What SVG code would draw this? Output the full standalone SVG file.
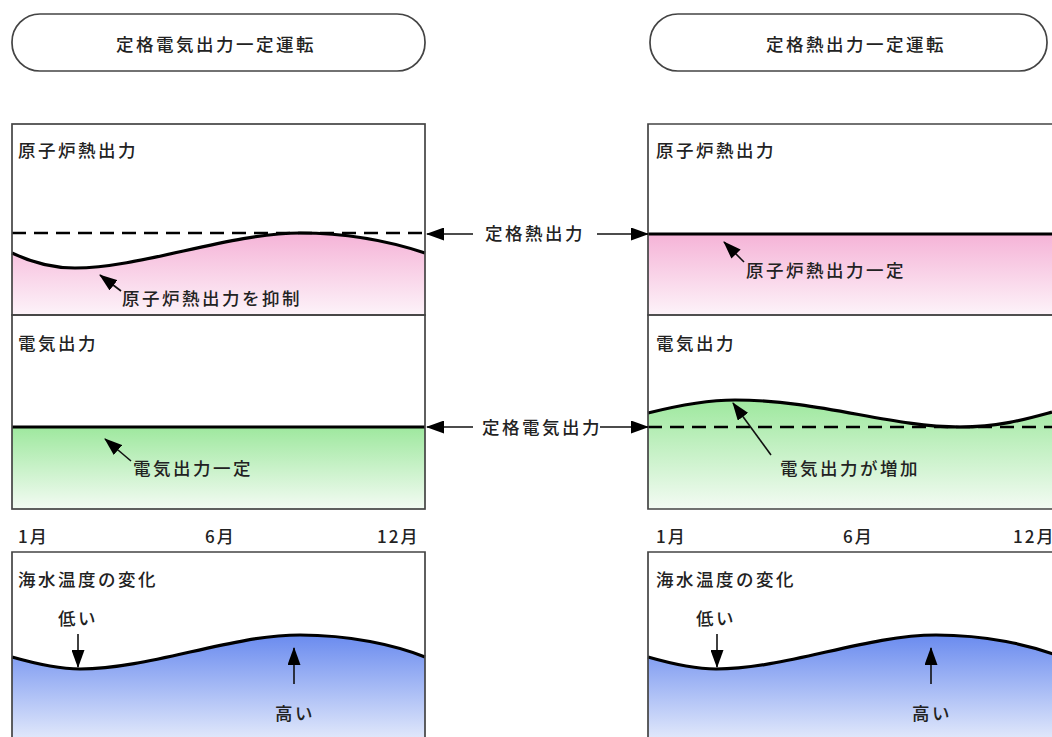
<svg xmlns="http://www.w3.org/2000/svg" width="1052" height="737" viewBox="0 0 1052 737">
<defs>
<style>
text{font-family:"Noto Sans CJK JP","Noto Sans",sans-serif;fill:#222;font-size:17.5px;letter-spacing:2.5px;font-weight:500}
.frame{fill:none;stroke:#444;stroke-width:1.7}
.pill{fill:#fff;stroke:#444;stroke-width:1.7}
.curve{fill:none;stroke:#000;stroke-width:3.2}
.dash{fill:none;stroke:#000;stroke-width:2.6;stroke-dasharray:14 8}
.solid{fill:none;stroke:#000;stroke-width:3.2}
.arr{fill:none;stroke:#111;stroke-width:1.6}
.month{font-size:17px;letter-spacing:2px}
</style>
<linearGradient id="gPink" x1="0" y1="0" x2="0" y2="1">
<stop offset="0" stop-color="#f5b3d7"/><stop offset="1" stop-color="#fdf3f9"/>
</linearGradient>
<linearGradient id="gGreen" x1="0" y1="0" x2="0" y2="1">
<stop offset="0" stop-color="#9ee89e"/><stop offset="1" stop-color="#f3fbf3"/>
</linearGradient>
<linearGradient id="gBlue" x1="0" y1="0" x2="0" y2="1">
<stop offset="0" stop-color="#6a8bef"/><stop offset="1" stop-color="#e2e9fb"/>
</linearGradient>
<marker id="ah" viewBox="0 0 18 13" refX="17" refY="6.5" markerWidth="18" markerHeight="13" markerUnits="userSpaceOnUse" orient="auto">
<path d="M0,0 L18,6.5 L0,13 Z" fill="#000"/>
</marker>
</defs>
<rect width="1052" height="737" fill="#fff"/>

<g id="title-left">
<rect class="pill" x="12" y="14" width="413" height="57" rx="28"/>
<text x="116" y="51">定格電気出力一定運転</text>
</g>
<g id="title-right">
<rect class="pill" x="650" y="14" width="397" height="57" rx="28"/>
<text x="766" y="51">定格熱出力一定運転</text>
</g>

<g id="left-heat">
<path d="M12,253 C35,264 55,268 75,268 C140,268 230,233 300,233 C350,233 395,243 425,253 L425,315 L12,315 Z" fill="url(#gPink)"/>
<line class="dash" x1="12" y1="233" x2="425" y2="233"/>
<path class="curve" d="M12,253 C35,264 55,268 75,268 C140,268 230,233 300,233 C350,233 395,243 425,253"/>
<rect class="frame" x="12" y="124" width="413" height="191"/>
<text x="18" y="157">原子炉熱出力</text>
<text x="122" y="305">原子炉熱出力を抑制</text>
</g>

<g id="left-elec">
<rect x="12" y="427" width="413" height="82" fill="url(#gGreen)"/>
<line class="solid" x1="12" y1="427" x2="425" y2="427"/>
<rect class="frame" x="12" y="315" width="413" height="194"/>
<text x="18" y="350">電気出力</text>
<text x="133" y="475">電気出力一定</text>
</g>

<g id="left-months">
<text class="month" x="18" y="543">1月</text>
<text class="month" x="205" y="543">6月</text>
<text class="month" x="377" y="543">12月</text>
</g>

<g id="left-sea">
<path d="M12,657 C40,665 60,669 80,669 C150,669 230,635 300,635 C350,635 395,645 425,657 L425,740 L12,740 Z" fill="url(#gBlue)"/>
<path class="curve" d="M12,657 C40,665 60,669 80,669 C150,669 230,635 300,635 C350,635 395,645 425,657"/>
<path class="frame" d="M12,740 L12,552 L425,552 L425,740"/>
<text x="18" y="586">海水温度の変化</text>
<text x="58" y="625">低い</text>
<text x="275" y="720">高い</text>
</g>

<g id="right-heat">
<rect x="648" y="234" width="410" height="81" fill="url(#gPink)"/>
<line class="solid" x1="648" y1="234" x2="1052" y2="234"/>
<path class="frame" d="M1060,124 L648,124 L648,315 L1060,315"/>
<text x="656" y="157">原子炉熱出力</text>
<text x="746" y="277">原子炉熱出力一定</text>
</g>

<g id="right-elec">
<path d="M648,413 C680,405 710,400 735,400 C820,400 890,427 960,427 C1000,427 1030,418 1052,412 L1052,509 L648,509 Z" fill="url(#gGreen)"/>
<line class="dash" x1="648" y1="427" x2="1052" y2="427"/>
<path class="curve" d="M648,413 C680,405 710,400 735,400 C820,400 890,427 960,427 C1000,427 1030,418 1052,412"/>
<path class="frame" d="M1060,315 L648,315 L648,509 L1060,509"/>
<text x="656" y="350">電気出力</text>
<text x="780" y="475">電気出力が増加</text>
</g>

<g id="right-months">
<text class="month" x="656" y="543">1月</text>
<text class="month" x="843" y="543">6月</text>
<text class="month" x="1013" y="543">12月</text>
</g>

<g id="right-sea">
<path d="M648,657 C676,665 696,669 716,669 C786,669 866,635 936,635 C986,635 1031,645 1061,657 L1061,740 L648,740 Z" fill="url(#gBlue)"/>
<path class="curve" d="M648,657 C676,665 696,669 716,669 C786,669 866,635 936,635 C986,635 1031,645 1061,657"/>
<path class="frame" d="M648,740 L648,552 L1060,552"/>
<text x="656" y="586">海水温度の変化</text>
<text x="696" y="625">低い</text>
<text x="912" y="720">高い</text>
</g>

<g id="center-labels">
<text x="485" y="240">定格熱出力</text>
<text x="482" y="434">定格電気出力</text>
</g>

<g id="connectors">
<line class="arr" x1="473" y1="234" x2="427" y2="234" marker-end="url(#ah)"/>
<line class="arr" x1="597" y1="234" x2="648" y2="234" marker-end="url(#ah)"/>
<line class="arr" x1="473" y1="427" x2="427" y2="427" marker-end="url(#ah)"/>
<line class="arr" x1="600" y1="427" x2="648" y2="427" marker-end="url(#ah)"/>
<line class="arr" x1="121" y1="291" x2="100" y2="275" marker-end="url(#ah)"/>
<line class="arr" x1="131" y1="461" x2="105" y2="439" marker-end="url(#ah)"/>
<line class="arr" x1="744" y1="262" x2="724" y2="242" marker-end="url(#ah)"/>
<line class="arr" x1="771" y1="455" x2="733" y2="403" marker-end="url(#ah)"/>
<line class="arr" x1="78" y1="634" x2="78" y2="667" marker-end="url(#ah)"/>
<line class="arr" x1="294" y1="684" x2="294" y2="648" marker-end="url(#ah)"/>
<line class="arr" x1="717" y1="634" x2="717" y2="667" marker-end="url(#ah)"/>
<line class="arr" x1="931" y1="684" x2="931" y2="648" marker-end="url(#ah)"/>
</g>
</svg>
